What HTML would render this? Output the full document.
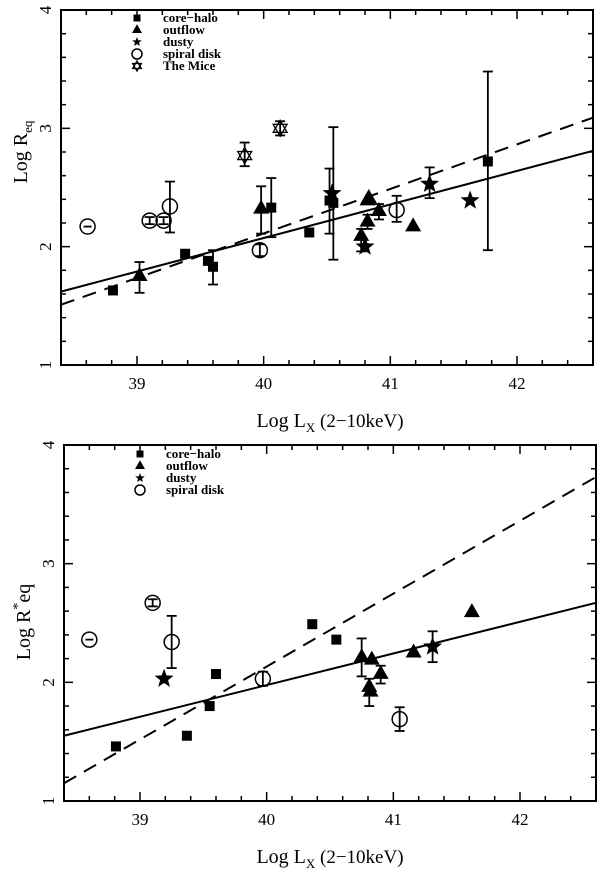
<!DOCTYPE html>
<html><head><meta charset="utf-8"><style>
html,body{margin:0;padding:0;background:#fff;}
svg{display:block;font-family:"Liberation Serif",serif;}
</style></head><body>
<svg id="chart" width="600" height="872" viewBox="0 0 600 872"></svg>
<script>
// ---- Top panel data ----
const topCoreX=[38.81,39.38,39.56,39.60,40.06,40.36,40.52,40.55,41.77];
const topCoreY=[1.63,1.94,1.88,1.83,2.33,2.12,2.39,2.37,2.72];
const topCoreLo=[null,null,null,1.68,2.08,null,2.11,1.89,1.97];
const topCoreHi=[null,null,null,1.97,2.58,null,2.66,3.01,3.48];
const topOutX=[39.02,39.98,40.77,40.82,40.82,40.83,40.91,41.18];
const topOutY=[1.75,2.32,2.09,2.21,2.39,2.41,2.30,2.17];
const topOutLo=[1.61,2.11,1.96,2.15,null,null,2.23,null];
const topOutHi=[1.87,2.51,2.15,2.27,null,null,2.36,null];
const topDustX=[40.54,40.80,41.31,41.63];
const topDustY=[2.45,2.00,2.53,2.39];
const topDustLo=[null,null,2.41,null];
const topDustHi=[null,null,2.67,null];
const topSpirX=[38.61,39.10,39.21,39.26,39.97,41.05];
const topSpirY=[2.17,2.22,2.22,2.34,1.97,2.31];
const topSpirLo=[2.17,2.19,2.19,2.12,1.92,2.21];
const topSpirHi=[2.17,2.25,2.25,2.55,2.02,2.43];
const topMiceX=[39.85,40.13];
const topMiceY=[2.77,3.00];
const topMiceLo=[2.68,2.94];
const topMiceHi=[2.88,3.06];
const topSolid=[1.62,2.81];
const topDash=[1.51,3.09];
// ---- Bottom panel data ----
const botCoreX=[38.81,39.37,39.55,39.60,40.36,40.55];
const botCoreY=[1.46,1.55,1.80,2.07,2.49,2.36];
const botOutX=[40.75,40.83,40.81,40.82,40.90,41.16,41.62];
const botOutY=[2.21,2.19,1.96,1.92,2.07,2.25,2.59];
const botOutLo=[2.05,null,1.80,null,1.99,null,null];
const botOutHi=[2.37,null,2.03,null,2.14,null,2.62];
const botDustX=[39.19,41.31];
const botDustY=[2.03,2.30];
const botDustLo=[null,2.17];
const botDustHi=[null,2.43];
const botSpirX=[38.60,39.10,39.25,39.97,41.05];
const botSpirY=[2.36,2.67,2.34,2.03,1.69];
const botSpirLo=[2.36,2.64,2.12,1.97,1.59];
const botSpirHi=[2.36,2.70,2.56,2.09,1.79];
const botSolid=[1.55,2.67];
const botDash=[1.15,3.73];
const xTicks=["39","40","41","42"];
const yTicks=["1","2","3","4"];

const NS="http://www.w3.org/2000/svg";
const svg=document.getElementById('chart');
function mk(tag,attrs,parent){const e=document.createElementNS(NS,tag);for(const k in attrs)e.setAttribute(k,attrs[k]);(parent||svg).appendChild(e);return e;}

function panel(L,R,T,B,cfg){
  const g=mk('g',{});
  
  
  const X0=38.4,X1=42.6,Y0=1,Y1=4;
  const sx=v=>L+(v-X0)/(X1-X0)*(R-L);
  const sy=v=>B-(v-Y0)/(Y1-Y0)*(B-T);
  const fr=mk('rect',{x:L,y:T,width:R-L,height:B-T,fill:'none',stroke:'#000','stroke-width':2},g);
  
  
  // ticks
  for(let i=0;i<=21;i++){const v=38.4+i*0.2;if(v>42.61)break;const x=sx(v);const maj=Math.abs(v-Math.round(v))<0.01;const l=maj?9:5;
    mk('line',{x1:x,y1:B,x2:x,y2:B-l,stroke:'#000','stroke-width':1.5},g);
    mk('line',{x1:x,y1:T,x2:x,y2:T+l,stroke:'#000','stroke-width':1.5},g);}
  for(let i=0;i<=15;i++){const v=1+i*0.2;const y=sy(v);const maj=i%5==0;const l=maj?9:5;
    mk('line',{x1:L,y1:y,x2:L+l,y2:y,stroke:'#000','stroke-width':1.5},g);
    mk('line',{x1:R,y1:y,x2:R-l,y2:y,stroke:'#000','stroke-width':1.5},g);}
  xTicks.forEach(t=>{const e=mk('text',{x:sx(+t),y:B+24,'text-anchor':'middle','font-size':17},g);e.textContent=t;
    });
  yTicks.forEach(t=>{const y=sy(+t);const e=mk('text',{x:0,y:0,'text-anchor':'middle','font-size':17,transform:`translate(${L-10},${y}) rotate(-90)`},g);e.textContent=t;
    });
  // axis titles
  const xt=mk('text',{x:330,y:B+62,'text-anchor':'middle','font-size':20},g);
  xt.innerHTML='Log L<tspan font-size="13" dy="5">X</tspan><tspan dy="-5" font-size="19"> (2−10keV)</tspan>';
  
  const yt=mk('text',{x:0,y:0,'text-anchor':'middle','font-size':20,transform:`translate(${L-34},${cfg.ytY}) rotate(-90)`},g);
  yt.innerHTML=cfg.ytitle;
  
  // fit lines
  const sl=mk('line',{x1:sx(X0),y1:sy(cfg.solid[0]),x2:sx(X1),y2:sy(cfg.solid[1]),stroke:'#000','stroke-width':2},g);
  
  const dl=mk('line',{x1:sx(X0),y1:sy(cfg.dash[0]),x2:sx(X1),y2:sy(cfg.dash[1]),stroke:'#000','stroke-width':2,'stroke-dasharray':'14 9'},g);
  
  function err(x,lo,hi){if(lo==null||hi==null||lo===hi)return;const X=sx(x);
    mk('line',{x1:X,y1:sy(lo),x2:X,y2:sy(hi),stroke:'#000','stroke-width':1.8},g);
    mk('line',{x1:X-5,y1:sy(lo),x2:X+5,y2:sy(lo),stroke:'#000','stroke-width':1.8},g);
    mk('line',{x1:X-5,y1:sy(hi),x2:X+5,y2:sy(hi),stroke:'#000','stroke-width':1.8},g);}
  function starPts(cx,cy,r){let p=[];for(let i=0;i<10;i++){const a=-Math.PI/2+i*Math.PI/5;const rr=i%2?r*0.42:r;p.push((cx+rr*Math.cos(a)).toFixed(1)+','+(cy+rr*Math.sin(a)).toFixed(1));}return p.join(' ');}
  function marker(type,cx,cy,s){let e;
    if(type==='square')e=mk('rect',{x:cx-s,y:cy-s,width:2*s,height:2*s,fill:'#000'},g);
    else if(type==='tri')e=mk('polygon',{points:`${cx},${cy-s*1.15} ${cx-s},${cy+s*0.6} ${cx+s},${cy+s*0.6}`,fill:'#000'},g);
    else if(type==='star')e=mk('polygon',{points:starPts(cx,cy,s),fill:'#000'},g);
    else if(type==='circle')e=mk('circle',{cx:cx,cy:cy,r:s,fill:'none',stroke:'#000','stroke-width':1.5},g);
    else {e=mk('g',{},g);
      mk('polygon',{points:`${cx},${cy-s} ${cx-s*0.87},${cy+s/2} ${cx+s*0.87},${cy+s/2}`,fill:'none',stroke:'#000','stroke-width':1.3},e);
      mk('polygon',{points:`${cx},${cy+s} ${cx-s*0.87},${cy-s/2} ${cx+s*0.87},${cy-s/2}`,fill:'none',stroke:'#000','stroke-width':1.3},e);}
    return e;}
  function series(type,name,xs,ys,lo,hi,s){xs.forEach((x,i)=>{if(lo)err(x,lo[i],hi[i]);
    if(type==='circle'&&lo&&lo[i]===hi[i]){mk('line',{x1:sx(x)-4,y1:sy(ys[i]),x2:sx(x)+4,y2:sy(ys[i]),stroke:'#000','stroke-width':1.8},g);}
    const m=marker(type,sx(x),sy(ys[i]),s);
    });}
  cfg.series.forEach(a=>series(...a));
  // legend
  cfg.legend.forEach((it,i)=>{const y=cfg.legY+i*12;
    const m=marker(it[0],L+76,y,it[0]==='square'?3.5:it[0]==='circle'?5:5);
    
    const t=mk('text',{x:L+102,y:y+4,'font-size':13,'font-weight':'bold'},g);t.textContent=it[1];
    });
}

panel(61,593,10,365,{name:'top-panel',ytY:152,ytitle:'Log R<tspan font-size="13" dy="5">eq</tspan>',
  solid:topSolid,dash:topDash,legY:18,
  legend:[['square','core−halo'],['tri','outflow'],['star','dusty'],['circle','spiral disk'],['mice','The Mice']],
  series:[['square','core-halo-point',topCoreX,topCoreY,topCoreLo,topCoreHi,5],
          ['tri','outflow-point',topOutX,topOutY,topOutLo,topOutHi,8],
          ['star','dusty-point',topDustX,topDustY,topDustLo,topDustHi,10],
          ['circle','spiral-disk-point',topSpirX,topSpirY,topSpirLo,topSpirHi,7.5],
          ['mice','mice-point',topMiceX,topMiceY,topMiceLo,topMiceHi,8]]});
panel(64,596,445,801,{name:'bottom-panel',ytY:622,ytitle:'Log R<tspan font-size="14" dy="-8">*</tspan><tspan dy="8">eq</tspan>',
  solid:botSolid,dash:botDash,legY:454,
  legend:[['square','core−halo'],['tri','outflow'],['star','dusty'],['circle','spiral disk']],
  series:[['square','core-halo-point',botCoreX,botCoreY,null,null,5],
          ['tri','outflow-point',botOutX,botOutY,botOutLo,botOutHi,8],
          ['star','dusty-point',botDustX,botDustY,botDustLo,botDustHi,10],
          ['circle','spiral-disk-point',botSpirX,botSpirY,botSpirLo,botSpirHi,7.5]]});
</script>
</body></html>
